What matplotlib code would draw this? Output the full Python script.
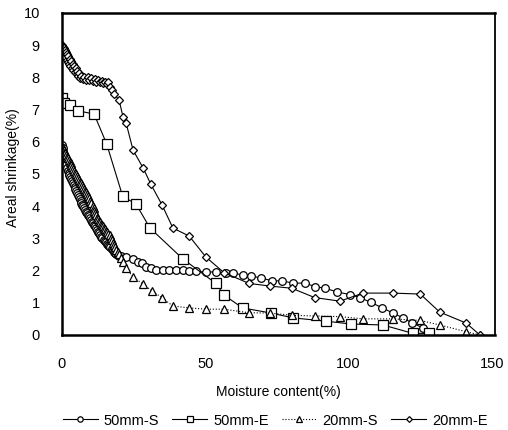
import matplotlib
matplotlib.use("Agg")
import matplotlib.pyplot as plt

plt.rcParams['font.family'] = ['Liberation Sans', 'DejaVu Sans']

# 50mm-S (circles) - dense readings at low moisture, then sparse tail
s50_x = [0.0, 0.25, 0.5, 0.75, 1.0, 1.25, 1.5, 1.75, 2.0, 2.3, 2.6, 2.9, 3.2, 3.5, 3.8, 4.1,
         4.4, 4.7, 5.0, 5.3, 5.6, 5.9, 6.2, 6.5, 6.8, 7.1, 7.45, 7.8, 8.15, 8.5, 8.85, 9.2,
         9.55, 9.9, 10.25, 10.6, 10.95, 11.3, 11.65, 12.0, 12.35, 12.7, 13.05, 13.4, 13.75,
         14.1, 14.5, 14.9, 15.3, 15.7, 16.1, 16.5, 16.9, 17.3, 17.7, 18.1, 18.5, 19.0, 19.5,
         20.0, 20.6,
         22.3, 24.8, 26.5, 28.0, 29.3, 31.0, 32.8, 35.2, 37.3, 39.8, 42.2, 44.3, 46.7, 50.2,
         53.7, 57.2, 59.6, 63.0, 66.0, 69.4, 73.4, 76.8, 80.6, 84.9, 88.3, 91.8, 95.9, 100.6,
         104.0, 107.8, 111.8, 115.5, 119.0, 122.2, 126.0, 127.7]
s50_y = [5.90, 5.80, 5.69, 5.58, 5.48, 5.38, 5.27, 5.17, 5.08, 5.02, 4.96, 4.90, 4.84, 4.77,
         4.71, 4.65, 4.59, 4.53, 4.47, 4.41, 4.35, 4.29, 4.23, 4.16, 4.10, 4.04, 3.99, 3.94,
         3.88, 3.83, 3.78, 3.73, 3.68, 3.62, 3.57, 3.52, 3.47, 3.42, 3.37, 3.31, 3.26, 3.21,
         3.16, 3.10, 3.05, 3.00, 2.96, 2.92, 2.88, 2.84, 2.80, 2.76, 2.72, 2.67, 2.63, 2.59,
         2.55, 2.50, 2.48, 2.46, 2.44,
         2.42, 2.36, 2.27, 2.23, 2.12, 2.08, 2.02, 2.02, 2.02, 2.02, 2.02, 2.0, 1.98, 1.95,
         1.96, 1.93, 1.93, 1.86, 1.83, 1.77, 1.68, 1.68, 1.61, 1.61, 1.5, 1.45, 1.34, 1.25,
         1.16, 1.01, 0.84, 0.68, 0.53, 0.37, 0.22, 0.06]

# 50mm-E (squares)
e50_x = [0.0, 0.7, 2.8, 5.6, 11.2, 15.6, 21.2, 25.8, 30.7, 42.2, 53.7, 56.5, 63.0, 73.0,
         80.6, 92.0, 100.8, 112.0, 122.4, 128.0]
e50_y = [7.35, 7.2, 7.14, 6.96, 6.86, 5.93, 4.3, 4.07, 3.32, 2.36, 1.6, 1.24, 0.84, 0.68,
         0.53, 0.43, 0.34, 0.31, 0.05, 0.05]

# 20mm-S (triangles)
s20_x = [0.0, 0.3, 0.6, 0.9, 1.2, 1.5, 1.8, 2.1, 2.4, 2.7, 3.0, 3.3, 3.6, 3.95, 4.3, 4.65,
         5.0, 5.35, 5.7, 6.05, 6.4, 6.75, 7.1, 7.45, 7.8, 8.15, 8.5, 8.85, 9.2, 9.6, 9.95,
         10.3, 10.65, 11.0, 11.3, 11.6, 11.95, 12.3, 12.65, 13.0, 13.35, 13.7, 14.05, 14.4,
         14.75, 15.1, 15.45, 15.8, 16.2, 16.6, 17.0, 17.4, 17.8, 18.2, 18.6, 19.0, 19.4,
         19.8, 20.5,
         21.3, 22.3, 24.8, 28.3, 31.4, 35.0, 38.7, 44.4, 50.2, 56.5, 65.3, 72.5, 80.4, 88.2,
         97.0, 105.0, 115.5, 125.0, 131.8, 141.0, 145.8]
s20_y = [5.85, 5.80, 5.75, 5.69, 5.64, 5.59, 5.54, 5.48, 5.43, 5.38, 5.33, 5.27, 5.22, 5.16,
         5.10, 5.04, 4.99, 4.93, 4.88, 4.82, 4.76, 4.71, 4.65, 4.59, 4.54, 4.48, 4.43, 4.37,
         4.31, 4.25, 4.17, 4.09, 4.01, 3.93, 3.86, 3.79, 3.71, 3.63, 3.59, 3.54, 3.50, 3.46,
         3.41, 3.37, 3.33, 3.28, 3.24, 3.20, 3.15, 3.10, 3.02, 2.95, 2.87, 2.80, 2.72, 2.65,
         2.57, 2.50, 2.39,
         2.27, 2.08, 1.8, 1.58, 1.37, 1.15, 0.9, 0.84, 0.8, 0.8, 0.69, 0.68, 0.61, 0.59,
         0.57, 0.5, 0.5, 0.45, 0.31, 0.1, 0.0]

# 20mm-E (diamonds) - scattered dense readings near 0-17 %
e20_x = [0.0, 0.15, 0.3, 0.45, 0.6, 0.8, 1.0, 1.2, 1.4, 1.6, 1.8, 2.0, 2.2, 2.45, 2.7, 2.95,
         3.2, 3.45, 3.7, 3.95, 4.2, 4.5, 4.8, 5.1, 5.4, 5.7, 6.0, 6.4, 6.8, 7.3, 7.8, 8.4,
         9.0, 9.6, 10.2, 10.8, 11.4, 12.0, 12.6, 13.2, 13.8, 14.4, 15.0, 15.6, 16.2, 16.8,
         17.4, 18.2,
         19.9, 21.3, 22.4, 24.8, 28.4, 31.0, 34.9, 38.7, 44.4, 50.2, 56.6, 65.3, 72.5, 80.2,
         88.2, 97.0, 105.0, 115.5, 125.0, 131.8, 141.0, 145.8]
e20_y = [9.00, 8.85, 8.95, 8.75, 8.90, 8.68, 8.85, 8.62, 8.78, 8.55, 8.72, 8.48, 8.65, 8.42,
         8.58, 8.35, 8.50, 8.30, 8.42, 8.22, 8.35, 8.16, 8.28, 8.10, 8.20, 8.04, 8.12, 7.98,
         8.05, 7.95, 8.02, 7.92, 8.00, 7.93, 7.98, 7.88, 7.95, 7.86, 7.92, 7.84, 7.90, 7.82,
         7.87, 7.80, 7.84, 7.70, 7.62, 7.48,
         7.3, 6.77, 6.57, 5.74, 5.17, 4.68, 4.04, 3.32, 3.07, 2.42, 1.93, 1.6, 1.52, 1.45,
         1.16, 1.05, 1.3, 1.3, 1.27, 0.71, 0.37, 0.0]

x_ticks = [0, 50, 100, 150]
y_ticks = [0, 1, 2, 3, 4, 5, 6, 7, 8, 9, 10]

fig = plt.figure(figsize=(5.08, 4.30), dpi=100)
ax = fig.add_axes([0.122, 0.221, 0.852, 0.749])

common = dict(color='black', linewidth=0.8, markerfacecolor='white',
              markeredgecolor='black', markeredgewidth=0.9)
ax.plot(s50_x, s50_y, '-', marker='o', markersize=5.5, label='50mm-S', **common)
ax.plot(e50_x, e50_y, '-', marker='s', markersize=6.5, label='50mm-E', **common)
ax.plot(s20_x, s20_y, ':', marker='^', markersize=5.5, label='20mm-S', **common)
ax.plot(e20_x, e20_y, '-', marker='D', markersize=4.2, label='20mm-E', **common)

ax.set_xlim(0, 151)
ax.set_ylim(0, 10)
ax.set_xticks(x_ticks)
ax.set_yticks(y_ticks)
ax.tick_params(length=0, labelsize=10.5)
ax.tick_params(axis='x', pad=16)
ax.tick_params(axis='y', pad=16)
for side in ['left', 'bottom', 'top']:
    ax.spines[side].set_linewidth(1.8)
ax.spines['right'].set_linewidth(1.3)

ax.set_xlabel('Moisture content(%)', fontsize=10, labelpad=10)
ax.set_ylabel('Areal shrinkage(%)', fontsize=10, labelpad=12)
ax.yaxis.set_label_coords(-0.097, 0.52)

fig.legend(loc='center', bbox_to_anchor=(0.542, 0.022), ncol=4, frameon=False,
           fontsize=10.5, handlelength=2.4, handletextpad=0.4, columnspacing=0.9,
           markerscale=0.7)

fig.savefig('out.png', dpi=100)
